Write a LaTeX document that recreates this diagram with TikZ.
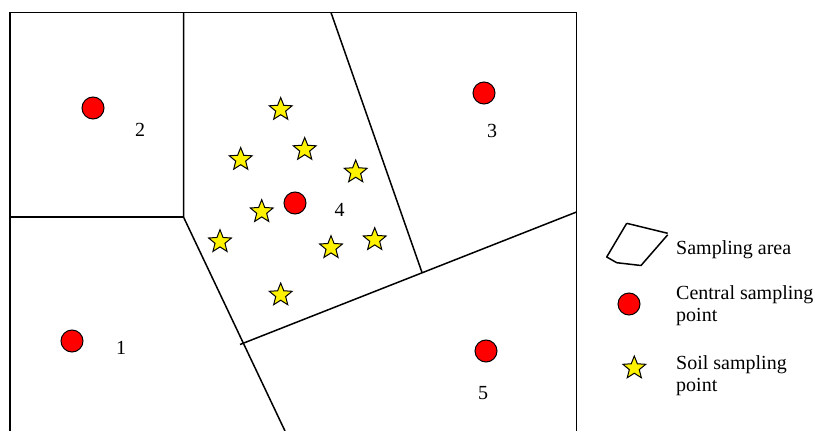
\documentclass[tikz,border=0pt]{standalone}
\usepackage{fontspec}
\setmainfont{Liberation Serif}
\usetikzlibrary{shapes.geometric}
\begin{document}
\begin{tikzpicture}[x=1pt,y=-1pt,
  border/.style={line width=1.8pt},
  divide/.style={line width=1.5pt},
  centre/.style={circle,draw=black,fill=red,line width=1pt,minimum size=22pt,inner sep=0pt},
  soil/.style={star,star points=5,star point ratio=2.3,draw=black,fill=yellow,line width=1pt,minimum size=24pt,inner sep=0pt},
  num/.style={font=\fontsize{20}{22}\selectfont,inner sep=0pt,anchor=base},
  legtext/.style={font=\fontsize{20}{22}\selectfont,inner sep=0pt,anchor=base west,align=left}]
\useasboundingbox (0,0) rectangle (814,431);
\fill[white] (0,0) rectangle (814,431);
% frame
\coordinate (TL) at (10,12.5);
\coordinate (TR) at (576.5,12.5);
\coordinate (BL) at (10,431);
\coordinate (BR) at (576.5,431);
\draw[border] (BL) -- (TL) -- (TR) -- (BR);
% dividing lines
\coordinate (A) at (183.5,12.5);
\coordinate (J) at (183.5,217);
\coordinate (L) at (10,217);
\coordinate (S) at (285,431);
\coordinate (P) at (240,344.5);
\coordinate (Q) at (576.5,212);
\coordinate (U) at (331,12.5);
\coordinate (V) at (422,272.5);
\draw[divide] (A) -- (J) -- (S);
\draw[divide] (L) -- (J);
\draw[divide] (P) -- (Q);
\draw[divide] (U) -- (V);
% central points
\node[centre] (c1) at (72,341) {};
\node[centre] (c2) at (93,108) {};
\node[centre] (c3) at (484,93) {};
\node[centre] (c4) at (295,203) {};
\node[centre] (c5) at (486,351) {};
% labels
\node[num] (n1) at (121,354) {1};
\node[num] (n2) at (140,136) {2};
\node[num] (n3) at (492,137.5) {3};
\node[num] (n4) at (339.5,216) {4};
\node[num] (n5) at (483,399) {5};
% soil points
\node[soil] (s1) at (280.7,109.5) {};
\node[soil] (s2) at (240.7,159.5) {};
\node[soil] (s3) at (304.7,149.5) {};
\node[soil] (s4) at (355.7,172) {};
\node[soil] (s5) at (261.7,211.7) {};
\node[soil] (s6) at (220,241.7) {};
\node[soil] (s7) at (331,247.7) {};
\node[soil] (s8) at (374.7,239.7) {};
\node[soil] (s9) at (280.7,295) {};
% legend
\coordinate (g1) at (626.7,223.3);
\coordinate (g2) at (667.7,233.3);
\coordinate (g3) at (667.7,234.8);
\coordinate (g4) at (641,265.5);
\coordinate (g5) at (616.7,262.7);
\coordinate (g6) at (606.7,257);
\draw[divide] (g1) -- (g2);
\draw[divide,line join=round] (g3) -- (g4) -- (g5) -- (g6) -- (g1);
\node[legtext] (t1) at (676,254) {Sampling area};
\node[centre] (lc) at (629,304) {};
\node[legtext] (t2) at (676,321.7) {Central sampling\\point};
\node[soil] (ls) at (634.3,368) {};
\node[legtext] (t3) at (676,391.7) {Soil sampling\\point};
\end{tikzpicture}
\end{document}
